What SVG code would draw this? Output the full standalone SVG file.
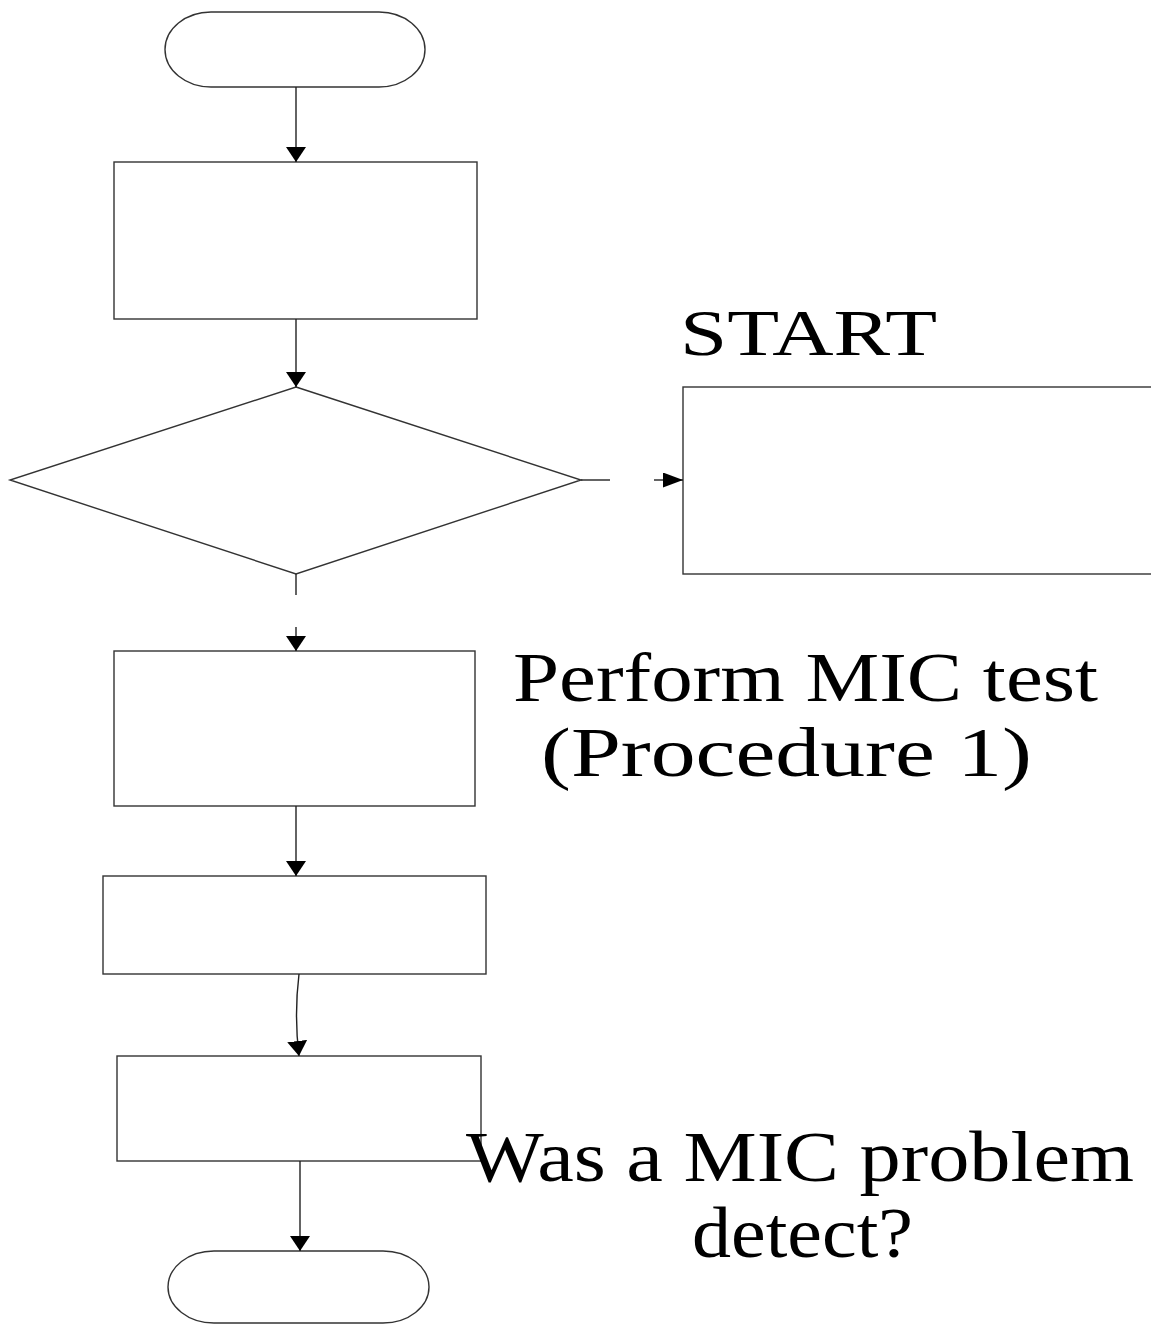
<svg xmlns="http://www.w3.org/2000/svg" width="1151" height="1326" viewBox="0 0 1151 1326">
<style>
.n{fill:#fff;stroke:#333;stroke-width:1.4}
.c{fill:none;stroke:#222;stroke-width:1.4}
.t{font-family:"Liberation Serif","Times New Roman",serif;fill:#000}
</style>
<defs>
<marker id="ah" viewBox="0 0 15 20" refX="15" refY="10" markerWidth="15" markerHeight="20" markerUnits="userSpaceOnUse" orient="auto">
<path d="M0,0 L15,10 L0,20 z" fill="#000"/>
</marker>
<marker id="ahh" viewBox="0 0 20 15" refX="20" refY="7.5" markerWidth="20" markerHeight="15" markerUnits="userSpaceOnUse" orient="auto">
<path d="M0,0 L20,7.5 L0,15 z" fill="#000"/>
</marker>
</defs>
<rect width="1151" height="1326" fill="#fff"/>
<g id="start"><rect class="n" x="165" y="12" width="260" height="75" rx="46" ry="37.5"/></g>
<g id="box1"><rect class="n" x="114" y="162" width="363" height="157"/></g>
<g id="decision"><polygon class="n" points="296,387 581,480 296,574 10,480"/></g>
<g id="box-right"><rect class="n" x="683" y="387" width="470" height="187"/></g>
<g id="box2"><rect class="n" x="114" y="651" width="361" height="155"/></g>
<g id="box3"><rect class="n" x="103" y="876" width="383" height="98"/></g>
<g id="box4"><rect class="n" x="117" y="1056" width="364" height="105"/></g>
<g id="end"><rect class="n" x="168" y="1251" width="261" height="72" rx="46" ry="36"/></g>
<g id="connectors">
<line class="c" x1="296" y1="87" x2="296" y2="162" marker-end="url(#ah)"/>
<line class="c" x1="296" y1="319" x2="296" y2="387" marker-end="url(#ah)"/>
<line class="c" x1="581" y1="480" x2="610" y2="480"/>
<line class="c" x1="654" y1="480" x2="683" y2="480" marker-end="url(#ahh)"/>
<line class="c" x1="296" y1="574" x2="296" y2="595"/>
<line class="c" x1="296" y1="627" x2="296" y2="651" marker-end="url(#ah)"/>
<line class="c" x1="296" y1="806" x2="296" y2="876" marker-end="url(#ah)"/>
<path class="c" d="M299,974 Q294,1015 299,1056" marker-end="url(#ah)"/>
<line class="c" x1="300" y1="1161" x2="300" y2="1251" marker-end="url(#ah)"/>
</g>
<g id="labels">
<text class="t" x="680" y="355" font-size="66" textLength="257" lengthAdjust="spacingAndGlyphs">START</text>
<text class="t" x="513" y="701" font-size="69" textLength="585" lengthAdjust="spacingAndGlyphs">Perform MIC test</text>
<text class="t" x="541" y="776" font-size="69" textLength="491" lengthAdjust="spacingAndGlyphs">(Procedure 1)</text>
<text class="t" x="466" y="1181" font-size="72" textLength="668" lengthAdjust="spacingAndGlyphs">Was a MIC problem</text>
<text class="t" x="692" y="1257" font-size="72" textLength="221" lengthAdjust="spacingAndGlyphs">detect?</text>
</g>
</svg>
